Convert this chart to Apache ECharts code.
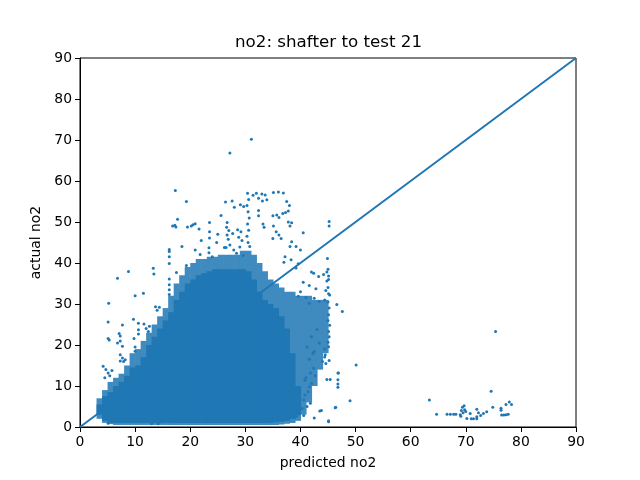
<!DOCTYPE html>
<html>
<head>
<meta charset="utf-8">
<script src="https://cdn.jsdelivr.net/npm/echarts@6/dist/echarts.min.js"></script>
<style>
  html, body { margin: 0; padding: 0; background: #fff; }
  #chart { width: 640px; height: 480px; }
</style>
</head>
<body>
<div id="chart"></div>
<script>
// x bins (left edge, width 1) of the packed part of the cloud
const binX = [3, 4, 5, 6, 7, 8, 9, 10, 11, 12, 13, 14, 15, 16, 17, 18, 19, 20, 21, 22, 23,
  24, 25, 26, 27, 28, 29, 30, 31, 32, 33, 34, 35, 36, 37, 38, 39, 40, 41, 42, 43, 44];
// solid core of the cloud per bin (null = no core there)
const coreLo = [3, 1.5, 1, 1, 1, 1, 1, 1, 1, 1, 1, 1, 1, 1, 1, 1, 1, 1, 1, 1, 1,
  1, 1, 1, 1, 1, 1, 1, 1, 1, 1, 1, 1.2, 1.3, 1.5, 2, 3, null, null, null, null, null];
const coreHi = [5.5, 7.5, 8.5, 10, 11, 12.5, 14.5, 15, 17, 20, 22, 24, 26, 28, 31, 33, 35, 36, 37, 37.5, 38,
  38.5, 38.5, 38.5, 38.5, 38.5, 38.5, 38, 36, 33, 31, 30, 29, 27, 24, 18, 10, null, null, null, null, null];
// speckled (less dense) band around the core
const haloLo = [2, 1, 0.7, 0.5, 0.5, 0.5, 0.5, 0.5, 0.5, 0.5, 0.5, 0.5, 0.5, 0.5, 0.5, 0.5, 0.5, 0.5, 0.5, 0.5, 0.5,
  0.5, 0.5, 0.5, 0.5, 0.5, 0.5, 0.5, 0.5, 0.5, 0.5, 0.5, 0.5, 0.6, 0.8, 1, 1.5, 3, 6, 10, 14, 18];
const haloHi = [7, 9, 11, 12, 13, 15, 18, 19, 21, 23, 25, 27, 29, 32, 35, 37, 39, 40, 41, 41, 41.5,
  41.5, 42, 42, 42, 42, 43, 43, 42, 40, 38, 36, 35, 34, 33, 33, 32, 32, 32, 31, 31, 31];

// single scattered points outside the packed cloud
const outliers = [
  [31.1, 70.2], [27.2, 66.8], [17.3, 57.7], [19.3, 55.0], [17.7, 50.7], [16.8, 49.0], [17.2, 49.2], [17.4, 48.8],
  [16.2, 43.3], [16.2, 42.8], [16.2, 41.5], [16.2, 39.9], [16.2, 36.1], [16.2, 34.7], [16.2, 33.5], [16.2, 32.3],
  [19.5, 48.8], [20.2, 49.0], [20.5, 49.3], [20.9, 49.6], [21.6, 48.3],
  [23.5, 49.9], [23.5, 47.6], [23.5, 46.1], [23.4, 43.7], [23.4, 42.5],
  [25.6, 51.6], [26.4, 54.9], [27.6, 55.1], [28.0, 53.6], [26.7, 49.9],
  [20.9, 43.2], [21.8, 42.1], [19.3, 39.4], [17.5, 37.7],
  [13.3, 38.7], [13.4, 37.3], [8.8, 37.9], [6.8, 36.3], [11.5, 32.6], [10.0, 32.0], [5.2, 30.2],
  [9.7, 26.3], [5.1, 25.6], [7.7, 24.9], [10.6, 25.3], [10.6, 23.7], [10.6, 22.7], [5.1, 21.6], [5.3, 21.2],
  [7.1, 22.8], [7.3, 22.2], [6.8, 20.5], [7.7, 19.7], [7.3, 21.0], [9.8, 21.6], [10.0, 19.5], [10.0, 18.5],
  [11.6, 25.1], [12.0, 24.0], [12.4, 23.3], [12.6, 24.6], [13.7, 29.3], [14.0, 28.5], [14.4, 29.2],
  [7.3, 17.6], [7.7, 16.8], [7.3, 16.1], [4.2, 14.8], [4.7, 14.0], [5.1, 13.2], [5.4, 12.5], [5.8, 13.8], [4.5, 12.0],
  [7.9, 16.0], [8.2, 16.4], [5.1, 0.9], [13.0, 0.8], [14.2, 0.8], [14.5, 1.2],
  [30.4, 57.0], [30.6, 55.5], [30.3, 54.0], [30.5, 52.5], [30.7, 51.0], [30.4, 49.5], [30.6, 48.0], [30.3, 46.5],
  [30.5, 45.0], [30.8, 44.0], [29.1, 54.2], [29.7, 53.8],
  [31.4, 56.5], [32.0, 57.0], [32.4, 55.8], [33.0, 56.8], [33.6, 56.6], [35.1, 57.2], [36.0, 57.3], [36.9, 57.1],
  [33.1, 55.1], [33.9, 55.4], [32.4, 52.8], [32.4, 51.5], [37.5, 55.0], [38.0, 54.0],
  [36.8, 52.1], [37.3, 52.3], [37.8, 52.7], [35.0, 51.5], [35.7, 51.7], [36.1, 51.1],
  [37.8, 50.0], [38.4, 49.8], [38.1, 49.0], [45.2, 50.1], [45.2, 49.0],
  [33.2, 49.5], [33.4, 48.7], [35.1, 49.0], [35.6, 47.6], [36.1, 46.8], [36.5, 46.0], [35.0, 46.0],
  [40.5, 47.4], [38.4, 45.2], [38.1, 44.0], [39.2, 44.0], [40.0, 43.2],
  [44.9, 41.1], [37.2, 41.5], [37.0, 40.2], [38.3, 40.8], [39.2, 38.8], [39.6, 39.8],
  [42.0, 37.8], [42.4, 37.5], [43.3, 36.7], [44.2, 37.2], [44.8, 37.8], [45.1, 36.8], [44.8, 35.6],
  [40.5, 35.3], [41.6, 34.5], [42.8, 33.7], [44.6, 33.3], [45.3, 32.2], [44.4, 31.0], [43.4, 30.6], [42.5, 31.4],
  [41.6, 30.2], [41.0, 31.6], [40.0, 33.0], [39.6, 31.9],
  [26.6, 48.7], [27.0, 47.9], [26.7, 46.8], [26.9, 45.8], [27.7, 47.2], [28.6, 48.1], [29.2, 47.6], [28.8, 46.3], [29.4, 45.5],
  [26.2, 43.8], [26.5, 43.8], [27.2, 44.4], [27.9, 43.2], [28.4, 42.4], [29.0, 43.9], [29.6, 41.8],
  [18.5, 44.0], [22.0, 45.5], [24.8, 45.0], [25.0, 47.0], [24.0, 41.5],
  [45.0, 38.5], [45.1, 36.0], [45.0, 34.0], [45.1, 32.5], [45.0, 30.5], [45.2, 29.0], [45.1, 27.4], [45.0, 26.0],
  [45.3, 24.8], [45.1, 23.3], [45.2, 22.0], [45.0, 20.7], [45.1, 19.6],
  [46.6, 29.9], [47.6, 28.2], [44.4, 17.1], [45.2, 16.2], [44.6, 15.5], [50.1, 15.1], [44.8, 11.6], [45.4, 11.6],
  [46.8, 13.2], [46.8, 11.5], [46.8, 10.5], [46.8, 9.7], [49.0, 6.4], [46.3, 4.7], [45.1, 1.5], [43.8, 4.0], [43.5, 3.9],
  [41.6, 9.8], [41.4, 8.6], [40.8, 7.8], [40.6, 6.6], [41.8, 5.8], [41.2, 5.0], [40.3, 4.5], [39.6, 3.2],
  [40.6, 2.8], [39.3, 2.6], [39.0, 2.3], [42.5, 2.2],
  [41.8, 13.2], [42.7, 12.5], [42.4, 14.3], [41.6, 16.5], [42.3, 18.0], [41.2, 19.5], [43.4, 20.5], [42.0, 22.0], [43.0, 23.8],
  [42.5, 18.4], [44.4, 19.0], [44.5, 17.6], [44.0, 16.0], [46.9, 13.2], [45.1, 1.3], [46.4, 4.8],
  [42.0, 10.6], [40.8, 11.4], [41.0, 12.0],
  [63.4, 6.6], [64.7, 3.1], [66.6, 3.1], [67.2, 3.1], [67.8, 3.1], [68.2, 3.1], [69.0, 3.0], [69.2, 4.0], [69.4, 4.8],
  [69.5, 3.5], [69.8, 4.2], [69.7, 5.2], [70.0, 3.8], [70.2, 2.1], [70.8, 3.3], [71.0, 2.0], [71.4, 2.0], [69.1, 2.6],
  [72.0, 4.3], [72.0, 2.5], [72.0, 2.0], [72.3, 3.5], [72.7, 2.8], [73.2, 3.3], [73.8, 3.7], [74.6, 8.7], [74.9, 4.8],
  [75.4, 23.3], [76.4, 4.6], [76.4, 4.1], [76.5, 2.9], [76.9, 2.9], [77.3, 3.0], [77.7, 3.1], [77.3, 5.5], [77.9, 6.1], [78.3, 5.5]
];

// identity reference line
const lineX = [0, 90];
const lineY = [0, 90];

const axisTicks = [0, 10, 20, 30, 40, 50, 60, 70, 80, 90];

const BLUE = "#1f77b4";
const HALO = "#3f8abf"; // speckled blue/white mix seen from afar
const FONT = "DejaVu Sans";

const coreData = [];
const haloData = [];
binX.forEach((x, i) => {
  if (coreLo[i] != null) coreData.push([x, coreLo[i], coreHi[i]]);
  haloData.push([x, haloLo[i], haloHi[i]]);
});

// one rectangle per x bin, from lo to hi
function bandItem(fill) {
  return function (params, api) {
    const p0 = api.coord([api.value(0), api.value(1)]);
    const p1 = api.coord([api.value(0) + 1, api.value(2)]);
    return {
      type: "rect",
      shape: { x: p0[0], y: p1[1], width: p1[0] - p0[0] + 0.6, height: p0[1] - p1[1] },
      style: { fill: fill },
    };
  };
}

const axisCommon = {
  type: "value",
  min: 0,
  max: 90,
  interval: 10,
  splitLine: { show: false },
  axisLine: { show: true, lineStyle: { color: "#000", width: 1 } },
  axisTick: { show: true, length: 5, inside: false, lineStyle: { color: "#000" } },
  axisLabel: { color: "#000", fontFamily: FONT, fontSize: 13.9, margin: 8,
    formatter: (v) => (axisTicks.includes(v) ? String(v) : "") },
  nameTextStyle: { color: "#000", fontFamily: FONT, fontSize: 13.9 },
  nameLocation: "middle",
};

const chart = echarts.init(document.getElementById("chart"));
chart.setOption({
  animation: false,
  backgroundColor: "#fff",
  title: {
    text: "no2: shafter to test 21",
    left: 235,
    top: 34,
    padding: 0,
    textStyle: { color: "#000", fontFamily: FONT, fontSize: 16.7, fontWeight: "normal" },
  },
  grid: {
    left: 80, top: 58, width: 496, height: 369,
    show: true, borderColor: "#000", borderWidth: 1, backgroundColor: "transparent",
  },
  xAxis: Object.assign({}, axisCommon, { name: "predicted no2", nameGap: 29 }),
  yAxis: Object.assign({}, axisCommon, { name: "actual no2", nameGap: 31 }),
  series: [
    {
      type: "custom",
      renderItem: bandItem(HALO),
      data: haloData,
      encode: { x: 0, y: [1, 2] },
      clip: true,
      z: 1,
    },
    {
      type: "custom",
      renderItem: bandItem(BLUE),
      data: coreData,
      encode: { x: 0, y: [1, 2] },
      clip: true,
      z: 2,
    },
    {
      type: "scatter",
      data: outliers,
      symbol: "circle",
      symbolSize: 3,
      itemStyle: { color: BLUE, opacity: 1 },
      z: 3,
    },
    {
      type: "line",
      data: lineX.map((x, i) => [x, lineY[i]]),
      showSymbol: false,
      symbol: "none",
      lineStyle: { color: BLUE, width: 2 },
      z: 4,
    },
  ],
});
window.addEventListener("resize", () => chart.resize());
</script>
</body>
</html>
